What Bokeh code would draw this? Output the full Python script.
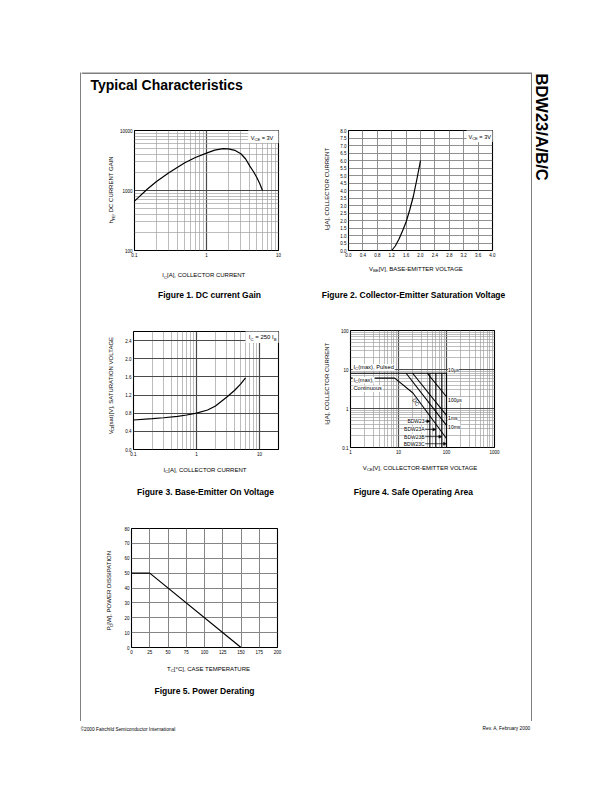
import math
from bokeh.plotting import figure
from bokeh.layouts import column, row
from bokeh.models import (Spacer, Range1d, FixedTicker, NumeralTickFormatter, Label,
                          BoxAnnotation, Arrow, NormalHead)
from bokeh.embed import file_html
from bokeh.resources import INLINE

FONT = "Liberation Sans"

# ---------------- data ----------------
# Figure 1: DC current gain, VCE = 3V
fig1_ic = [0.1, 0.15, 0.2, 0.3, 0.5, 0.7, 1.0, 1.3, 1.7, 2.0, 2.5, 3.0, 3.5, 4.0, 4.5, 5.0, 5.5, 6.0]
fig1_hfe = [665, 1050, 1400, 1980, 2900, 3550, 4200, 4700, 5000, 4950, 4650, 4100, 3350, 2550, 2050, 1650, 1300, 1000]
fig1_xticks = [0.1, 1, 10]
fig1_yticks = [100, 1000, 10000]

# Figure 2: IC vs VBE, VCE = 3V
fig2_vbe = [1.2, 1.3, 1.4, 1.5, 1.6, 1.7, 1.8, 1.9, 2.0]
fig2_ic = [0.0, 0.3, 0.75, 1.3, 1.9, 2.7, 3.6, 4.75, 6.0]
fig2_xticks = [0.0, 0.4, 0.8, 1.2, 1.6, 2.0, 2.4, 2.8, 3.2, 3.6, 4.0]
fig2_yticks = [0.0, 0.5, 1.0, 1.5, 2.0, 2.5, 3.0, 3.5, 4.0, 4.5, 5.0, 5.5, 6.0, 6.5, 7.0, 7.5, 8.0]

# Figure 3: VCE(sat) vs IC, IC = 250 IB
fig3_ic = [0.1, 0.2, 0.3, 0.5, 0.7, 1.0, 1.5, 2.0, 3.0, 4.0, 5.0, 6.0]
fig3_vce = [0.65, 0.68, 0.70, 0.73, 0.76, 0.80, 0.87, 0.96, 1.15, 1.30, 1.44, 1.58]
fig3_xticks = [0.1, 1, 10]
fig3_yticks = [0.0, 0.4, 0.8, 1.2, 1.6, 2.0, 2.4]

# Figure 4: safe operating area
fig4_xticks = [1, 10, 100, 1000]
fig4_yticks = [0.1, 1, 10, 100]
soa_pulsed_v = [1, 100]
soa_pulsed_i = [8, 8]
soa_dc_v = [1, 8.33, 20, 100]
soa_dc_i = [6, 6, 2.5, 0.17]
soa_10ms_v = [14.4, 100]
soa_10ms_i = [8, 0.37]
soa_1ms_v = [19.7, 100]
soa_1ms_i = [8, 0.67]
soa_100us_v = [40, 100]
soa_100us_i = [8, 2.0]
bdw_names = ["BDW23", "BDW23A", "BDW23B", "BDW23C"]
bdw_vceo = [45, 60, 80, 100]
bdw_label_i = [0.47, 0.29, 0.19, 0.125]
soa_time_labels = ["10\u03bcs", "100\u03bcs", "1ms", "10ms"]
soa_time_label_i = [9.5, 1.62, 0.57, 0.34]

# Figure 5: power derating
fig5_tc = [0, 25, 150]
fig5_pc = [50, 50, 0]
fig5_xticks = [0, 25, 50, 75, 100, 125, 150, 175, 200]
fig5_yticks = [0, 10, 20, 30, 40, 50, 60, 70, 80]

# ---------------- helpers ----------------
CW = {' ': 278, '!': 278, '(': 333, ')': 333, ',': 278, '-': 333, '.': 278, '/': 278, ':': 278,
      '=': 584, '[': 278, ']': 278, '\u00b0': 400, '\u03bc': 556, '\u00a9': 737}
for ch in "0123456789":
    CW[ch] = 556
CW.update(dict(zip("ABCDEFGHIJKLMNOPQRSTUVWXYZ",
                   [667, 667, 722, 722, 667, 611, 778, 722, 278, 500, 667, 556, 833, 722, 778, 667,
                    778, 722, 667, 611, 722, 667, 944, 667, 667, 611])))
CW.update(dict(zip("abcdefghijklmnopqrstuvwxyz",
                   [556, 556, 500, 556, 556, 278, 556, 556, 222, 222, 500, 222, 833, 556, 556, 556,
                    556, 333, 500, 278, 556, 500, 722, 500, 500, 500])))
MID = 0.35  # distance from baseline to the middle of the text box, in em


def tw(s, size):
    return sum(CW.get(c, 556) for c in s) * size / 1000.0


def text_at(p, text, bx, by, size, angle=0.0, align="left", units="data", bold=False, **kw):
    """Place a label by its baseline point (converted to a 'middle' anchor)."""
    ux, uy = -math.sin(angle), math.cos(angle)
    k = MID * size
    p.add_layout(Label(x=bx + k * ux, y=by + k * uy, x_units=units, y_units=units, text=text,
                       angle=angle, text_font=FONT, text_font_size=f"{size:.2f}px",
                       text_font_style="bold" if bold else "normal", text_align=align,
                       text_baseline="middle", text_color="black", **kw))


def rich(p, segs, x, y, size, align="center", angle=0.0, bg=False, units="screen"):
    sizes = [size * 0.72 if sub else size for _, sub in segs]
    widths = [tw(t, s) for (t, _), s in zip(segs, sizes)]
    total = sum(widths)
    pos = {"left": 0.0, "center": -total / 2.0, "right": -total}[align]
    if bg:
        p.add_layout(BoxAnnotation(left=x + pos - 0.8, right=x + pos + total + 0.8,
                                   bottom=y - 0.3 * size, top=y + 0.85 * size,
                                   left_units=units, right_units=units,
                                   top_units=units, bottom_units=units,
                                   fill_color="white", fill_alpha=1.0, line_color=None))
    ca, sa = math.cos(angle), math.sin(angle)
    for (t, sub), fs, w in zip(segs, sizes, widths):
        lead = len(t) - len(t.lstrip())
        q = pos + tw(t[:lead], fs)
        drop = size * 0.22 if sub else 0.0
        text_at(p, t.strip(), x + q * ca + drop * sa, y + q * sa - drop * ca, fs,
                angle=angle, units=units)
        pos += w


def white_box(p, l, r, b, t):
    p.add_layout(BoxAnnotation(left=l, right=r, bottom=b, top=t,
                               left_units="screen", right_units="screen",
                               top_units="screen", bottom_units="screen",
                               fill_color="white", fill_alpha=1.0, line_color=None))


def log_minors(lo, hi):
    out = []
    for e in range(lo, hi):
        out += [m * 10.0 ** e for m in range(2, 10)]
    return out


def plain(w, h, color="white"):
    p = figure(width=w, height=h, x_range=Range1d(0, w), y_range=Range1d(0, h),
               x_axis_type=None, y_axis_type=None, toolbar_location=None,
               output_backend="svg", title=None, min_border=0)
    p.outline_line_color = None
    p.background_fill_color = color
    p.border_fill_color = color
    p.grid.visible = False
    return p


def chart(w, h, l, r, t, b, xr, yr, xt="linear", yt="linear"):
    p = figure(width=w, height=h, x_range=xr, y_range=yr, x_axis_type=xt, y_axis_type=yt,
               toolbar_location=None, output_backend="svg", title=None,
               min_border_left=l, min_border_right=r, min_border_top=t, min_border_bottom=b)
    p.outline_line_color = "black"
    p.outline_line_width = 1.1
    for ax in p.axis:
        ax.axis_line_color = None
        ax.major_tick_line_color = None
        ax.minor_tick_line_color = None
        ax.major_tick_out = 0
        ax.major_tick_in = 0
        ax.minor_tick_out = 0
        ax.minor_tick_in = 0
        ax.major_label_text_font = FONT
        ax.major_label_text_font_size = "4.5px"
        ax.major_label_text_color = "black"
        ax.major_label_standoff = 2
    return p


def setup(p, dim, ticks, minors, fmt, mc, mw, nc, nw):
    t = FixedTicker(ticks=ticks, minor_ticks=minors)
    ax = p.xaxis if dim == "x" else p.yaxis
    gr = p.xgrid if dim == "x" else p.ygrid
    ax.ticker = t
    gr.ticker = t
    ax.formatter = NumeralTickFormatter(format=fmt)
    gr.grid_line_color = mc
    gr.grid_line_width = mw
    gr.minor_grid_line_color = nc
    gr.minor_grid_line_width = nw


def cell(chart_fig, ylab_w, ylab_h, ylab_segs, ylx, yly, bot_h, xlab_segs, xlx, xly, cap, cx, cy):
    yl = plain(ylab_w, ylab_h)
    rich(yl, ylab_segs, ylx, yly, 6, angle=math.pi / 2, units="data")
    bf = plain(225, bot_h)
    rich(bf, xlab_segs, xlx, xly, 6, units="data")
    text_at(bf, cap, cx, cy, 8.5, align="center", bold=True)
    return column(row(yl, chart_fig), bf)


MAJ, MIN = "#4a4a4a", "#a0a0a0"
LIN = "#858585"
IC_LABEL = [("I", False), ("C", True), ("[A], COLLECTOR CURRENT", False)]

# ---------------- Figure 1 ----------------
p1 = chart(190, 139, 16, 28, 10, 8, Range1d(0.1, 10), Range1d(100, 10000), "log", "log")
setup(p1, "x", fig1_xticks, log_minors(-1, 1), "0.[0]", MAJ, 1.2, MIN, 0.7)
setup(p1, "y", fig1_yticks, log_minors(2, 4), "0", MAJ, 1.2, MIN, 0.7)
p1.line(fig1_ic, fig1_hfe, line_color="black", line_width=1.2)
white_box(p1, 113.7, 146, 107.5, 121)
rich(p1, [("V", False), ("CE", True), (" = 3V", False)], 116.3, 110.5, 5.6, align="left")
c1 = cell(p1, 35, 139, [("h", False), ("FE", True), (", DC CURRENT GAIN", False)], 31.7, 65.7,
          46, IC_LABEL, 122.3, 28, "Figure 1. DC current Gain", 128, 8)

# ---------------- Figure 2 ----------------
p2 = chart(194, 139, 10, 39, 10, 8, Range1d(0, 4.0), Range1d(0, 8.0))
setup(p2, "x", fig2_xticks, [], "0.0", LIN, 0.9, None, 0)
setup(p2, "y", fig2_yticks, [], "0.0", LIN, 0.9, None, 0)
p2.line(fig2_vbe, fig2_ic, line_color="black", line_width=1.2)
white_box(p2, 118, 145, 108.5, 121)
rich(p2, [("V", False), ("CE", True), (" = 3V", False)], 142.5, 112, 5.6, align="right")
c2 = cell(p2, 31, 139, IC_LABEL, 22.5, 65,
          46, [("V", False), ("BE", True), ("[V], BASE-EMITTER VOLTAGE", False)], 109.8, 34.5,
          "Figure 2. Collector-Emitter Saturation Voltage", 107, 8)

# ---------------- Figure 3 ----------------
p3 = chart(184, 153, 10, 28, 26, 8, Range1d(0.1, 20), Range1d(0, 2.6), "log", "linear")
setup(p3, "x", fig3_xticks, log_minors(-1, 1) + [20], "0.[0]", MAJ, 1.2, MIN, 0.7)
setup(p3, "y", fig3_yticks, [], "0.0", MAJ, 1.1, None, 0)
p3.line(fig3_ic, fig3_vce, line_color="black", line_width=1.2)
white_box(p3, 112, 146, 106.5, 119)
rich(p3, [("I", False), ("C", True), (" = 250 I", False), ("B", True)], 115.3, 110, 6, align="left")
c3 = cell(p3, 41, 153, [("V", False), ("CE", True), ("(sat)[V], SATURATION VOLTAGE", False)], 31.5, 70.5,
          47, IC_LABEL, 123.5, 33.5, "Figure 3. Base-Emitter On Voltage", 124, 11)

# ---------------- Figure 4 ----------------
p4 = chart(194, 151, 10, 37, 25, 8, Range1d(1, 1000), Range1d(0.1, 100), "log", "log")
setup(p4, "x", fig4_xticks, log_minors(0, 3), "0", MAJ, 1.2, MIN, 0.7)
setup(p4, "y", fig4_yticks, log_minors(-1, 2), "0.[0]", MAJ, 1.2, MIN, 0.7)
for vx, iy in ((soa_pulsed_v, soa_pulsed_i), (soa_dc_v, soa_dc_i), (soa_10ms_v, soa_10ms_i),
               (soa_1ms_v, soa_1ms_i), (soa_100us_v, soa_100us_i)):
    p4.line(vx, iy, line_color="black", line_width=1.1)
p4.segment(x0=bdw_vceo, y0=[fig4_yticks[0]] * len(bdw_vceo), x1=bdw_vceo,
           y1=[soa_pulsed_i[0]] * len(bdw_vceo), line_color="black", line_width=1.1)
for name, vce, iy in zip(bdw_names, bdw_vceo, bdw_label_i):
    p4.add_layout(Label(x=35, y=iy, text=name, text_align="right", text_baseline="middle",
                        text_font=FONT, text_font_size="5px", background_fill_color="white",
                        text_color="black"))
    p4.add_layout(Arrow(end=NormalHead(size=3, line_width=0.5, fill_color="black", line_color="black"),
                        x_start=36, y_start=iy, x_end=vce, y_end=iy, line_width=0.7, line_color="black"))
for txt, iy in zip(soa_time_labels, soa_time_label_i):
    p4.add_layout(Label(x=108, y=iy, text=txt, text_align="left", text_baseline="middle",
                        text_font=FONT, text_font_size="5px", background_fill_color="white",
                        text_color="black"))
p4.add_layout(Label(x=23, y=1.45, text="DC", angle=-0.96, text_align="center", text_baseline="middle",
                    text_font=FONT, text_font_size="5.5px", text_color="black"))
rich(p4, [("I", False), ("C", True), ("(max), Pulsed", False)], 3, 78.5, 5.8, align="left", bg=True)
rich(p4, [("I", False), ("C", True), ("(max),", False)], 3, 65.7, 5.6, align="left", bg=True)
rich(p4, [("Continuous", False)], 3, 57.3, 5.6, align="left", bg=True)
c4 = cell(p4, 31, 151, IC_LABEL, 22.5, 71,
          49, [("V", False), ("CE", True), ("[V], COLLECTOR-EMITTER VOLTAGE", False)], 114, 35.5,
          "Figure 4. Safe Operating Area", 107, 11)

# ---------------- Figure 5 ----------------
p5 = chart(185, 151, 10, 29, 23, 8, Range1d(0, 200), Range1d(0, 80))
setup(p5, "x", fig5_xticks, [], "0", LIN, 1.0, None, 0)
setup(p5, "y", fig5_yticks, [], "0", LIN, 1.0, None, 0)
p5.line(fig5_tc, fig5_pc, line_color="black", line_width=1.2)
c5 = cell(p5, 40, 151, [("P", False), ("C", True), ("[W], POWER DISSIPATION", False)], 30, 62.7,
          63, [("T", False), ("C", True), ("[\u00b0C], CASE TEMPERATURE", False)], 127.3, 48.5,
          "Figure 5. Power Derating", 123, 26)

# ---------------- page furniture ----------------
title_fig = plain(450, 48)
title_fig.segment(x0=[0], y0=[47.5], x1=[450], y1=[47.5], line_color="black", line_width=1)
text_at(title_fig, "Typical Characteristics", 9, 31, 14, bold=True)

bottom_strip = plain(450, 3)
bottom_strip.segment(x0=[0], y0=[1.5], x1=[450], y1=[1.5], line_color="black", line_width=1)

side_fig = plain(40, 649)
text_at(side_fig, "BDW23/A/B/C", 4, 648, 16.5, angle=-math.pi / 2, bold=True)

footer_fig = plain(460, 20)
text_at(footer_fig, "\u00a92000 Fairchild Semiconductor International", 0, 11.5, 4.8)
text_at(footer_fig, "Rev. A, February 2000", 450, 12.5, 4.8, align="right")

inner = column(title_fig, row(c1, c2), row(c3, c4), row(c5, Spacer(width=225, height=214)), bottom_strip)
framed = row(Spacer(width=80, height=649), plain(1, 649, "black"), inner,
             plain(1, 649, "black"), side_fig)
page = column(Spacer(width=80, height=72), framed, row(Spacer(width=80, height=20), footer_fig))

open("out.html", "w").write(file_html(page, INLINE, "BDW23 Typical Characteristics"))
